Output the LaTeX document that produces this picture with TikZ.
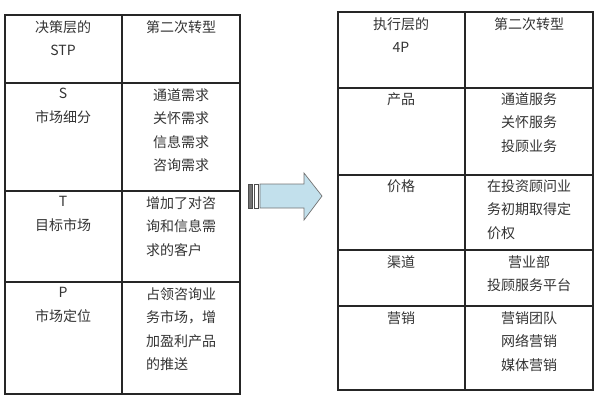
\documentclass[tikz,border=0pt]{standalone}
\usepackage{fontspec}
\newfontfamily\cjk{Noto Sans CJK SC}
\begin{document}
\begin{tikzpicture}[x=1pt,y=-1pt,
 tbl/.style={draw=black!85,line width=1.3pt},
 txt/.style={font=\cjk\fontsize{14}{23.5}\selectfont,text=black!80,align=center,anchor=north}]
\useasboundingbox (0,0) rectangle (600,400);
% left table
\draw[tbl] (5,15) rectangle (240,394);
\draw[tbl] (122,15) -- (122,394);
\foreach \y in {83,191,282} \draw[tbl] (5,\y) -- (240,\y);
\node[txt] (l1) at (63,17) {决策层的\\STP};
\node[txt] (l2) at (181,17) {第二次转型};
\node[txt] (l3) at (63,85) {S\\市场细分};
\node[txt] (l4) at (181,85) {通道需求\\关怀需求\\信息需求\\咨询需求};
\node[txt] (l5) at (63,193) {T\\目标市场};
\node[txt,align=left] (l6) at (181,193) {增加了对咨\\询和信息需\\求的客户};
\node[txt] (l7) at (63,284) {P\\市场定位};
\node[txt,align=left] (l8) at (181,284) {占领咨询业\\务市场，增\\加盈利产品\\的推送};
% right table
\draw[tbl] (338,12) rectangle (593,390);
\draw[tbl] (465,12) -- (465,390);
\foreach \y in {88,175,250,306} \draw[tbl] (338,\y) -- (593,\y);
\node[txt] (r1) at (401,14) {执行层的\\4P};
\node[txt] (r2) at (529,14) {第二次转型};
\node[txt] (r3) at (401,89) {产品};
\node[txt] (r4) at (529,89) {通道服务\\关怀服务\\投顾业务};
\node[txt] (r5) at (401,176) {价格};
\node[txt,align=left] (r6) at (529,176) {在投资顾问业\\务初期取得定\\价权};
\node[txt] (r7) at (401,252) {渠道};
\node[txt] (r8) at (529,252) {营业部\\投顾服务平台};
\node[txt] (r9) at (401,308) {营销};
\node[txt] (r10) at (529,308) {营销团队\\网络营销\\媒体营销};
% arrow
\draw[black!70,fill=black!55,line width=0.6pt] (248,184) rectangle (252,208);
\draw[black!70,fill=white,line width=0.6pt] (254,184) rectangle (258,208);
\draw[black!55,fill=cyan!22!white!85!gray,line width=0.7pt]
 (260,184) -- (304,184) -- (304,173) -- (322,196) -- (304,220) -- (304,208) -- (260,208) -- cycle;
\end{tikzpicture}
\end{document}
